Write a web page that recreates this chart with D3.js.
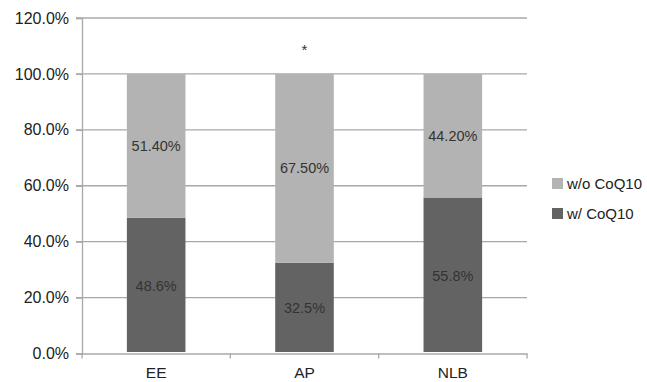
<!DOCTYPE html>
<html>
<head>
<meta charset="utf-8">
<script src="https://cdn.jsdelivr.net/npm/d3@7"></script>
<style>
  html, body { margin: 0; padding: 0; background: #fff; }
  svg { display: block; font-family: "Liberation Sans", Arial, sans-serif; }
</style>
</head>
<body>
<svg id="chart" width="647" height="382"></svg>
<script>
// Share of patients with and without CoQ10, by group
const categories = ["EE", "AP", "NLB"];
const withCoQ10 = [48.6, 32.5, 55.8];
const withoutCoQ10 = [51.4, 67.5, 44.2];
const withLabels = ["48.6%", "32.5%", "55.8%"];
const withoutLabels = ["51.40%", "67.50%", "44.20%"];
const yTicks = [0, 20, 40, 60, 80, 100, 120];
const significance = ["", "*", ""];
const seriesNames = ["w/o CoQ10", "w/ CoQ10"];

const svg = d3.select("#chart");
const plotLeft = 82, plotRight = 527, plotTop = 18, plotBottom = 353.5;

const x = d3.scaleBand().domain(categories).range([plotLeft, plotRight]).paddingInner(0).paddingOuter(0);
const y = d3.scaleLinear().domain([0, 120]).range([plotBottom, plotTop]);
const barW = x.bandwidth() * 0.395;
const axisColor = "#a8a8a8";

// gridlines
svg.append("g").selectAll("line").data(yTicks.filter(d => d > 0)).join("line")
  .attr("x1", plotLeft - 6).attr("x2", plotRight)
  .attr("y1", d => y(d)).attr("y2", d => y(d))
  .attr("stroke", axisColor).attr("stroke-width", 1.3);

// y axis
const yAxis = svg.append("g").attr("transform", `translate(${plotLeft},0)`)
  .call(d3.axisLeft(y).tickValues(yTicks).tickSize(6).tickPadding(7).tickFormat(d => d.toFixed(1) + "%"));
yAxis.select(".domain").attr("stroke", axisColor).attr("stroke-width", 1.3);
yAxis.selectAll(".tick line").attr("stroke", axisColor).attr("stroke-width", 1.3);
yAxis.selectAll(".tick text").attr("font-size", 16).attr("fill", "#222")
  .attr("font-family", "Liberation Sans, Arial, sans-serif");

// x axis
const xAxis = svg.append("g").attr("transform", `translate(0,${plotBottom})`)
  .call(d3.axisBottom(x).tickSize(0).tickPadding(13));
xAxis.select(".domain").attr("stroke", axisColor).attr("stroke-width", 1.3);
xAxis.selectAll(".tick text").attr("font-size", 15.5).attr("fill", "#222")
  .attr("font-family", "Liberation Sans, Arial, sans-serif");
// category separator ticks
const edges = [plotLeft].concat(categories.map(c => x(c) + x.bandwidth()));
svg.append("g").selectAll("line").data(edges).join("line")
  .attr("x1", d => d).attr("x2", d => d)
  .attr("y1", plotBottom).attr("y2", plotBottom + 5)
  .attr("stroke", axisColor).attr("stroke-width", 1.3);

const cx = c => x(c) + x.bandwidth() / 2;

// bars: w/ CoQ10 at bottom, w/o CoQ10 stacked above
const g = svg.append("g");
g.selectAll("rect.w").data(categories).join("rect").attr("class", "w")
  .attr("x", c => cx(c) - barW / 2).attr("width", barW)
  .attr("y", (c, i) => y(withCoQ10[i]))
  .attr("height", (c, i) => y(0) - y(withCoQ10[i]) - 1.5)
  .attr("fill", "#636363");
g.selectAll("rect.wo").data(categories).join("rect").attr("class", "wo")
  .attr("x", c => cx(c) - barW / 2).attr("width", barW)
  .attr("y", (c, i) => y(withCoQ10[i] + withoutCoQ10[i]))
  .attr("height", (c, i) => y(withCoQ10[i]) - y(withCoQ10[i] + withoutCoQ10[i]))
  .attr("fill", "#b3b3b3");

// value labels
g.selectAll("text.wl").data(categories).join("text").attr("class", "wl")
  .attr("x", cx).attr("y", (c, i) => y(withCoQ10[i] / 2))
  .attr("dy", "0.35em").attr("text-anchor", "middle")
  .attr("font-size", 14.5).attr("fill", "#333")
  .text((c, i) => withLabels[i]);
g.selectAll("text.wol").data(categories).join("text").attr("class", "wol")
  .attr("x", cx).attr("y", (c, i) => y(withCoQ10[i] + withoutCoQ10[i] / 2))
  .attr("dy", "0.35em").attr("text-anchor", "middle")
  .attr("font-size", 14.5).attr("fill", "#333")
  .text((c, i) => withoutLabels[i]);

// significance marks
g.selectAll("text.sig").data(categories).join("text").attr("class", "sig")
  .attr("x", cx).attr("y", (c, i) => y(withCoQ10[i] + withoutCoQ10[i]) - 19)
  .attr("text-anchor", "middle").attr("font-size", 15).attr("fill", "#333")
  .text((c, i) => significance[i]);

// legend
const legendColors = ["#b3b3b3", "#636363"];
const lg = svg.append("g").attr("transform", "translate(552,178)");
seriesNames.forEach((name, i) => {
  lg.append("rect").attr("x", 0).attr("y", i * 30).attr("width", 11).attr("height", 11)
    .attr("fill", legendColors[i]);
  lg.append("text").attr("x", 15).attr("y", i * 30 + 5.5).attr("dy", "0.35em")
    .attr("font-size", 15).attr("fill", "#222").text(name);
});
</script>
</body>
</html>
